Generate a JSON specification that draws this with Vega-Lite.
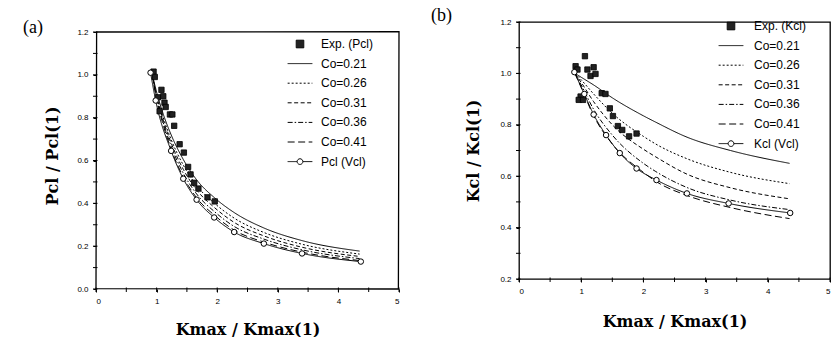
{
  "$schema": "https://vega.github.io/schema/vega-lite/v6.json",
  "padding": {"left": 23, "top": 6, "right": 0, "bottom": 0},
  "spacing": 28,
  "config": {
    "font": "Liberation Sans",
    "view": {"stroke": null},
    "axis": {"grid": false, "domain": false, "ticks": true, "domainColor": "black", "tickColor": "black", "tickSize": 3, "tickWidth": 1, "labelColor": "black", "labelFont": "Liberation Sans", "labelFontSize": 8, "labelPadding": 5, "titleColor": "black", "titleFont": "DejaVu Serif", "titleFontSize": 16, "titleFontWeight": "bold"},
    "legend": {"labelFont": "Liberation Sans", "labelFontSize": 12, "labelColor": "black", "symbolStrokeColor": "black", "symbolStrokeWidth": 1, "symbolSize": 361, "rowPadding": 3.6, "title": null},
    "title": {"font": "Liberation Serif", "fontSize": 18, "fontWeight": "normal", "anchor": "start", "frame": "group", "color": "black", "baseline": "alphabetic", "offset": 0}
  },
  "resolve": {"scale": {"strokeDash": "independent", "shape": "independent", "fill": "independent", "stroke": "independent"}},
  "datasets": {
    "a_frame": [{"i": 0, "x": 0, "y": 0}, {"i": 1, "x": 0.01, "y": 1.2}, {"i": 2, "x": 5, "y": 1.202}, {"i": 3, "x": 4.99, "y": 0}, {"i": 4, "x": 0, "y": 0.002}],
    "a_yticks": [{"x": 0, "y": 0}, {"x": 0, "y": 0.1}, {"x": 0, "y": 0.2}, {"x": 0, "y": 0.3}, {"x": 0, "y": 0.4}, {"x": 0, "y": 0.5}, {"x": 0, "y": 0.6}, {"x": 0, "y": 0.7}, {"x": 0, "y": 0.8}, {"x": 0, "y": 0.9}, {"x": 0, "y": 1.0}, {"x": 0, "y": 1.1}, {"x": 0, "y": 1.2}],
    "b_yticks": [{"x": 0, "y": 0.2}, {"x": 0, "y": 0.3}, {"x": 0, "y": 0.4}, {"x": 0, "y": 0.5}, {"x": 0, "y": 0.6}, {"x": 0, "y": 0.7}, {"x": 0, "y": 0.8}, {"x": 0, "y": 0.9}, {"x": 0, "y": 1.0}, {"x": 0, "y": 1.1}, {"x": 0, "y": 1.2}],
    "a_xticks": [{"x": 0, "y": 0}, {"x": 0.5, "y": 0}, {"x": 1, "y": 0}, {"x": 1.5, "y": 0}, {"x": 2, "y": 0}, {"x": 2.5, "y": 0}, {"x": 3, "y": 0}, {"x": 3.5, "y": 0}, {"x": 4, "y": 0}, {"x": 4.5, "y": 0}, {"x": 5, "y": 0}],
    "b_xticks": [{"x": 0, "y": 0.2}, {"x": 0.5, "y": 0.2}, {"x": 1, "y": 0.2}, {"x": 1.5, "y": 0.2}, {"x": 2, "y": 0.2}, {"x": 2.5, "y": 0.2}, {"x": 3, "y": 0.2}, {"x": 3.5, "y": 0.2}, {"x": 4, "y": 0.2}, {"x": 4.5, "y": 0.2}, {"x": 5, "y": 0.2}],
    "a_lines": [
      {"series": "Co=0.21", "x": 0.93, "y": 1.0}, {"series": "Co=0.21", "x": 1.0, "y": 0.92}, {"series": "Co=0.21", "x": 1.1, "y": 0.825}, {"series": "Co=0.21", "x": 1.24, "y": 0.72}, {"series": "Co=0.21", "x": 1.44, "y": 0.605}, {"series": "Co=0.21", "x": 1.66, "y": 0.51}, {"series": "Co=0.21", "x": 1.96, "y": 0.425}, {"series": "Co=0.21", "x": 2.28, "y": 0.357}, {"series": "Co=0.21", "x": 2.77, "y": 0.285}, {"series": "Co=0.21", "x": 3.4, "y": 0.226}, {"series": "Co=0.21", "x": 4.35, "y": 0.177},
      {"series": "Co=0.26", "x": 0.93, "y": 1.0}, {"series": "Co=0.26", "x": 1.0, "y": 0.908}, {"series": "Co=0.26", "x": 1.1, "y": 0.809}, {"series": "Co=0.26", "x": 1.24, "y": 0.698}, {"series": "Co=0.26", "x": 1.44, "y": 0.579}, {"series": "Co=0.26", "x": 1.66, "y": 0.483}, {"series": "Co=0.26", "x": 1.96, "y": 0.399}, {"series": "Co=0.26", "x": 2.28, "y": 0.331}, {"series": "Co=0.26", "x": 2.77, "y": 0.264}, {"series": "Co=0.26", "x": 3.4, "y": 0.209}, {"series": "Co=0.26", "x": 4.35, "y": 0.163},
      {"series": "Co=0.31", "x": 0.93, "y": 1.0}, {"series": "Co=0.31", "x": 1.0, "y": 0.9}, {"series": "Co=0.31", "x": 1.1, "y": 0.797}, {"series": "Co=0.31", "x": 1.24, "y": 0.682}, {"series": "Co=0.31", "x": 1.44, "y": 0.559}, {"series": "Co=0.31", "x": 1.66, "y": 0.463}, {"series": "Co=0.31", "x": 1.96, "y": 0.379}, {"series": "Co=0.31", "x": 2.28, "y": 0.311}, {"series": "Co=0.31", "x": 2.77, "y": 0.248}, {"series": "Co=0.31", "x": 3.4, "y": 0.195}, {"series": "Co=0.31", "x": 4.35, "y": 0.152},
      {"series": "Co=0.36", "x": 0.93, "y": 1.0}, {"series": "Co=0.36", "x": 1.0, "y": 0.892}, {"series": "Co=0.36", "x": 1.1, "y": 0.786}, {"series": "Co=0.36", "x": 1.24, "y": 0.667}, {"series": "Co=0.36", "x": 1.44, "y": 0.541}, {"series": "Co=0.36", "x": 1.66, "y": 0.444}, {"series": "Co=0.36", "x": 1.96, "y": 0.36}, {"series": "Co=0.36", "x": 2.28, "y": 0.292}, {"series": "Co=0.36", "x": 2.77, "y": 0.233}, {"series": "Co=0.36", "x": 3.4, "y": 0.183}, {"series": "Co=0.36", "x": 4.35, "y": 0.142},
      {"series": "Co=0.41", "x": 0.93, "y": 1.0}, {"series": "Co=0.41", "x": 1.0, "y": 0.884}, {"series": "Co=0.41", "x": 1.1, "y": 0.775}, {"series": "Co=0.41", "x": 1.24, "y": 0.652}, {"series": "Co=0.41", "x": 1.44, "y": 0.524}, {"series": "Co=0.41", "x": 1.66, "y": 0.426}, {"series": "Co=0.41", "x": 1.96, "y": 0.343}, {"series": "Co=0.41", "x": 2.28, "y": 0.275}, {"series": "Co=0.41", "x": 2.77, "y": 0.219}, {"series": "Co=0.41", "x": 3.4, "y": 0.172}, {"series": "Co=0.41", "x": 4.35, "y": 0.133},
      {"series": "Pcl (Vcl)", "x": 0.9, "y": 1.01}, {"series": "Pcl (Vcl)", "x": 0.985, "y": 0.88}, {"series": "Pcl (Vcl)", "x": 1.24, "y": 0.645}, {"series": "Pcl (Vcl)", "x": 1.44, "y": 0.515}, {"series": "Pcl (Vcl)", "x": 1.66, "y": 0.417}, {"series": "Pcl (Vcl)", "x": 1.95, "y": 0.334}, {"series": "Pcl (Vcl)", "x": 2.28, "y": 0.266}, {"series": "Pcl (Vcl)", "x": 2.77, "y": 0.212}, {"series": "Pcl (Vcl)", "x": 3.4, "y": 0.166}, {"series": "Pcl (Vcl)", "x": 4.37, "y": 0.128}
    ],
    "a_exp": [
      {"series": "Exp. (Pcl)", "x": 0.95, "y": 1.015}, {"series": "Exp. (Pcl)", "x": 0.97, "y": 0.99}, {"series": "Exp. (Pcl)", "x": 1.02, "y": 0.895}, {"series": "Exp. (Pcl)", "x": 1.05, "y": 0.83}, {"series": "Exp. (Pcl)", "x": 1.08, "y": 0.93}, {"series": "Exp. (Pcl)", "x": 1.11, "y": 0.9}, {"series": "Exp. (Pcl)", "x": 1.13, "y": 0.87}, {"series": "Exp. (Pcl)", "x": 1.15, "y": 0.85}, {"series": "Exp. (Pcl)", "x": 1.22, "y": 0.815}, {"series": "Exp. (Pcl)", "x": 1.26, "y": 0.815}, {"series": "Exp. (Pcl)", "x": 1.29, "y": 0.762}, {"series": "Exp. (Pcl)", "x": 1.38, "y": 0.676}, {"series": "Exp. (Pcl)", "x": 1.45, "y": 0.637}, {"series": "Exp. (Pcl)", "x": 1.52, "y": 0.57}, {"series": "Exp. (Pcl)", "x": 1.56, "y": 0.535}, {"series": "Exp. (Pcl)", "x": 1.62, "y": 0.496}, {"series": "Exp. (Pcl)", "x": 1.69, "y": 0.469}, {"series": "Exp. (Pcl)", "x": 1.84, "y": 0.428}, {"series": "Exp. (Pcl)", "x": 1.96, "y": 0.409}
    ],
    "b_lines": [
      {"series": "Co=0.21", "x": 0.9, "y": 1.0}, {"series": "Co=0.21", "x": 1.0, "y": 0.985}, {"series": "Co=0.21", "x": 1.2, "y": 0.955}, {"series": "Co=0.21", "x": 1.5, "y": 0.905}, {"series": "Co=0.21", "x": 2.0, "y": 0.835}, {"series": "Co=0.21", "x": 2.2, "y": 0.81}, {"series": "Co=0.21", "x": 2.7, "y": 0.752}, {"series": "Co=0.21", "x": 3.4, "y": 0.7}, {"series": "Co=0.21", "x": 4.35, "y": 0.65},
      {"series": "Co=0.26", "x": 0.9, "y": 1.0}, {"series": "Co=0.26", "x": 1.0, "y": 0.975}, {"series": "Co=0.26", "x": 1.2, "y": 0.92}, {"series": "Co=0.26", "x": 1.5, "y": 0.845}, {"series": "Co=0.26", "x": 2.0, "y": 0.755}, {"series": "Co=0.26", "x": 2.2, "y": 0.725}, {"series": "Co=0.26", "x": 2.7, "y": 0.668}, {"series": "Co=0.26", "x": 3.4, "y": 0.615}, {"series": "Co=0.26", "x": 4.35, "y": 0.571},
      {"series": "Co=0.31", "x": 0.9, "y": 1.0}, {"series": "Co=0.31", "x": 1.0, "y": 0.965}, {"series": "Co=0.31", "x": 1.2, "y": 0.89}, {"series": "Co=0.31", "x": 1.5, "y": 0.8}, {"series": "Co=0.31", "x": 2.0, "y": 0.705}, {"series": "Co=0.31", "x": 2.2, "y": 0.675}, {"series": "Co=0.31", "x": 2.7, "y": 0.608}, {"series": "Co=0.31", "x": 3.4, "y": 0.555}, {"series": "Co=0.31", "x": 4.35, "y": 0.512},
      {"series": "Co=0.36", "x": 0.9, "y": 1.0}, {"series": "Co=0.36", "x": 1.0, "y": 0.955}, {"series": "Co=0.36", "x": 1.2, "y": 0.86}, {"series": "Co=0.36", "x": 1.5, "y": 0.76}, {"series": "Co=0.36", "x": 2.0, "y": 0.65}, {"series": "Co=0.36", "x": 2.2, "y": 0.618}, {"series": "Co=0.36", "x": 2.7, "y": 0.556}, {"series": "Co=0.36", "x": 3.4, "y": 0.507}, {"series": "Co=0.36", "x": 4.35, "y": 0.47},
      {"series": "Co=0.41", "x": 0.9, "y": 1.0}, {"series": "Co=0.41", "x": 1.0, "y": 0.945}, {"series": "Co=0.41", "x": 1.2, "y": 0.835}, {"series": "Co=0.41", "x": 1.5, "y": 0.725}, {"series": "Co=0.41", "x": 2.0, "y": 0.615}, {"series": "Co=0.41", "x": 2.2, "y": 0.58}, {"series": "Co=0.41", "x": 2.7, "y": 0.525}, {"series": "Co=0.41", "x": 3.4, "y": 0.478}, {"series": "Co=0.41", "x": 4.35, "y": 0.435},
      {"series": "Kcl (Vcl)", "x": 0.89, "y": 1.005}, {"series": "Kcl (Vcl)", "x": 1.05, "y": 0.92}, {"series": "Kcl (Vcl)", "x": 1.2, "y": 0.84}, {"series": "Kcl (Vcl)", "x": 1.4, "y": 0.76}, {"series": "Kcl (Vcl)", "x": 1.62, "y": 0.69}, {"series": "Kcl (Vcl)", "x": 1.89, "y": 0.63}, {"series": "Kcl (Vcl)", "x": 2.21, "y": 0.585}, {"series": "Kcl (Vcl)", "x": 2.7, "y": 0.533}, {"series": "Kcl (Vcl)", "x": 3.37, "y": 0.494}, {"series": "Kcl (Vcl)", "x": 4.36, "y": 0.457}
    ],
    "b_exp": [
      {"series": "Exp. (Kcl)", "x": 1.06, "y": 1.067}, {"series": "Exp. (Kcl)", "x": 0.91, "y": 1.028}, {"series": "Exp. (Kcl)", "x": 0.94, "y": 1.015}, {"series": "Exp. (Kcl)", "x": 1.1, "y": 1.015}, {"series": "Exp. (Kcl)", "x": 1.2, "y": 1.024}, {"series": "Exp. (Kcl)", "x": 1.15, "y": 0.99}, {"series": "Exp. (Kcl)", "x": 1.23, "y": 0.998}, {"series": "Exp. (Kcl)", "x": 0.99, "y": 0.91}, {"series": "Exp. (Kcl)", "x": 0.96, "y": 0.897}, {"series": "Exp. (Kcl)", "x": 1.03, "y": 0.897}, {"series": "Exp. (Kcl)", "x": 1.33, "y": 0.923}, {"series": "Exp. (Kcl)", "x": 1.39, "y": 0.92}, {"series": "Exp. (Kcl)", "x": 1.46, "y": 0.864}, {"series": "Exp. (Kcl)", "x": 1.51, "y": 0.834}, {"series": "Exp. (Kcl)", "x": 1.59, "y": 0.795}, {"series": "Exp. (Kcl)", "x": 1.66, "y": 0.78}, {"series": "Exp. (Kcl)", "x": 1.77, "y": 0.755}, {"series": "Exp. (Kcl)", "x": 1.89, "y": 0.766}
    ]
  },
  "hconcat": [
    {
      "width": 303,
      "height": 267,
      "title": {"text": "(a)", "dx": -73, "dy": 19},
      "layer": [
        {
          "data": {"name": "a_lines"},
          "mark": {"type": "line", "color": "black", "strokeWidth": 1, "interpolate": "monotone"},
          "encoding": {
            "x": {"field": "x", "type": "quantitative", "scale": {"domain": [0, 5], "nice": false, "zero": false}, "axis": {"values": [0, 1, 2, 3, 4, 5], "format": "d", "title": "Kmax / Kmax(1)", "titlePadding": 16}},
            "y": {"field": "y", "type": "quantitative", "scale": {"domain": [0, 1.2467], "nice": false}, "axis": {"values": [0, 0.2, 0.4, 0.6, 0.8, 1.0, 1.2], "format": ".1f", "title": "Pcl / Pcl(1)", "titlePadding": 16}},
            "strokeDash": {"field": "series", "type": "nominal", "scale": {"domain": ["Exp. (Pcl)", "Co=0.21", "Co=0.26", "Co=0.31", "Co=0.36", "Co=0.41", "Pcl (Vcl)"], "range": [[1, 0], [1, 0], [2, 2], [4, 2.5], [5, 2, 1.5, 2], [7, 3.5], [1, 0]]}, "legend": {"orient": "none", "legendX": 194, "legendY": 12, "labelOffset": 11, "symbolStrokeColor": "black", "symbolStrokeWidth": 1}}
          }
        },
        {
          "data": {"name": "a_exp"},
          "mark": {"type": "point", "filled": true, "size": 180, "strokeWidth": 0.8, "opacity": 1},
          "encoding": {
            "x": {"field": "x", "type": "quantitative"},
            "y": {"field": "y", "type": "quantitative"},
            "shape": {"field": "series", "type": "nominal", "scale": {"domain": ["Exp. (Pcl)", "Co=0.21", "Co=0.26", "Co=0.31", "Co=0.36", "Co=0.41", "Pcl (Vcl)"], "range": ["M-0.4,-0.4H0.4V0.4H-0.4Z", "M-1.3,0H1.3", "M-1.3,0H1.3", "M-1.3,0H1.3", "M-1.3,0H1.3", "M-1.3,0H1.3", "M-1.3,0H-0.3M0.3,0H1.3M0.3,0A0.3,0.3 0 1 1 -0.3,0A0.3,0.3 0 1 1 0.3,0"]}, "legend": {"orient": "none", "legendX": 194, "legendY": 12, "labelOffset": 11, "symbolStrokeColor": "black", "symbolStrokeWidth": 1}},
            "fill": {"field": "series", "type": "nominal", "scale": {"domain": ["Exp. (Pcl)", "Co=0.21", "Co=0.26", "Co=0.31", "Co=0.36", "Co=0.41", "Pcl (Vcl)"], "range": ["#222222", "transparent", "transparent", "transparent", "transparent", "transparent", "white"]}, "legend": {"orient": "none", "legendX": 194, "legendY": 12, "labelOffset": 11, "symbolStrokeColor": "black", "symbolStrokeWidth": 1}},
            "stroke": {"field": "series", "type": "nominal", "scale": {"domain": ["Exp. (Pcl)", "Co=0.21", "Co=0.26", "Co=0.31", "Co=0.36", "Co=0.41", "Pcl (Vcl)"], "range": ["black", "black", "black", "black", "black", "black", "black"]}, "legend": {"orient": "none", "legendX": 194, "legendY": 12, "labelOffset": 11, "symbolStrokeColor": "black", "symbolStrokeWidth": 1}}
          }
        },
        {
          "data": {"name": "a_lines"},
          "transform": [{"filter": "datum.series === 'Pcl (Vcl)'"}],
          "mark": {"type": "point", "shape": "circle", "filled": true, "fill": "white", "stroke": "black", "strokeWidth": 1, "size": 30, "opacity": 1},
          "encoding": {
            "x": {"field": "x", "type": "quantitative"},
            "y": {"field": "y", "type": "quantitative"}
          }
        },
        {"data": {"name": "a_frame"}, "mark": {"type": "line", "stroke": "black", "strokeWidth": 1.3}, "encoding": {"x": {"field": "x", "type": "quantitative"}, "y": {"field": "y", "type": "quantitative"}, "order": {"field": "i", "type": "quantitative"}}},
        {"data": {"name": "a_yticks"}, "mark": {"type": "point", "shape": "M-1.2,0H0.6", "filled": true, "fill": "white", "stroke": "black", "strokeWidth": 1, "size": 25, "opacity": 1}, "encoding": {"x": {"field": "x", "type": "quantitative"}, "y": {"field": "y", "type": "quantitative"}}},
        {"data": {"name": "a_xticks"}, "mark": {"type": "point", "shape": "M0,-0.6V1.2", "filled": true, "fill": "white", "stroke": "black", "strokeWidth": 1, "size": 25, "opacity": 1}, "encoding": {"x": {"field": "x", "type": "quantitative"}, "y": {"field": "y", "type": "quantitative"}}}
      ]
    },
    {
      "width": 311,
      "height": 257,
      "title": {"text": "(b)", "dx": -88, "dy": 13},
      "view": {"stroke": "black", "strokeWidth": 1.3},
      "layer": [
        {
          "data": {"name": "b_lines"},
          "mark": {"type": "line", "color": "black", "strokeWidth": 1, "interpolate": "monotone"},
          "encoding": {
            "x": {"field": "x", "type": "quantitative", "scale": {"domain": [0, 5], "nice": false, "zero": false}, "axis": {"values": [0, 1, 2, 3, 4, 5], "format": "d", "title": "Kmax / Kmax(1)", "titlePadding": 18}},
            "y": {"field": "y", "type": "quantitative", "scale": {"domain": [0.2, 1.2], "nice": false, "zero": false}, "axis": {"values": [0.2, 0.4, 0.6, 0.8, 1.0, 1.2], "format": ".1f", "title": "Kcl / Kcl(1)", "titlePadding": 18}},
            "strokeDash": {"field": "series", "type": "nominal", "scale": {"domain": ["Exp. (Kcl)", "Co=0.21", "Co=0.26", "Co=0.31", "Co=0.36", "Co=0.41", "Kcl (Vcl)"], "range": [[1, 0], [1, 0], [2, 2], [4, 2.5], [5, 2, 1.5, 2], [7, 3.5], [1, 0]]}, "legend": {"orient": "none", "legendX": 202, "legendY": -6, "labelOffset": 13, "symbolStrokeColor": "black", "symbolStrokeWidth": 1}}
          }
        },
        {
          "data": {"name": "b_exp"},
          "mark": {"type": "point", "filled": true, "size": 180, "strokeWidth": 0.8, "opacity": 1},
          "encoding": {
            "x": {"field": "x", "type": "quantitative"},
            "y": {"field": "y", "type": "quantitative"},
            "shape": {"field": "series", "type": "nominal", "scale": {"domain": ["Exp. (Kcl)", "Co=0.21", "Co=0.26", "Co=0.31", "Co=0.36", "Co=0.41", "Kcl (Vcl)"], "range": ["M-0.4,-0.4H0.4V0.4H-0.4Z", "M-1.3,0H1.3", "M-1.3,0H1.3", "M-1.3,0H1.3", "M-1.3,0H1.3", "M-1.3,0H1.3", "M-1.3,0H-0.3M0.3,0H1.3M0.3,0A0.3,0.3 0 1 1 -0.3,0A0.3,0.3 0 1 1 0.3,0"]}, "legend": {"orient": "none", "legendX": 202, "legendY": -6, "labelOffset": 13, "symbolStrokeColor": "black", "symbolStrokeWidth": 1}},
            "fill": {"field": "series", "type": "nominal", "scale": {"domain": ["Exp. (Kcl)", "Co=0.21", "Co=0.26", "Co=0.31", "Co=0.36", "Co=0.41", "Kcl (Vcl)"], "range": ["#222222", "transparent", "transparent", "transparent", "transparent", "transparent", "white"]}, "legend": {"orient": "none", "legendX": 202, "legendY": -6, "labelOffset": 13, "symbolStrokeColor": "black", "symbolStrokeWidth": 1}},
            "stroke": {"field": "series", "type": "nominal", "scale": {"domain": ["Exp. (Kcl)", "Co=0.21", "Co=0.26", "Co=0.31", "Co=0.36", "Co=0.41", "Kcl (Vcl)"], "range": ["black", "black", "black", "black", "black", "black", "black"]}, "legend": {"orient": "none", "legendX": 202, "legendY": -6, "labelOffset": 13, "symbolStrokeColor": "black", "symbolStrokeWidth": 1}}
          }
        },
        {
          "data": {"name": "b_lines"},
          "transform": [{"filter": "datum.series === 'Kcl (Vcl)'"}],
          "mark": {"type": "point", "shape": "circle", "filled": true, "fill": "white", "stroke": "black", "strokeWidth": 1, "size": 30, "opacity": 1},
          "encoding": {
            "x": {"field": "x", "type": "quantitative"},
            "y": {"field": "y", "type": "quantitative"}
          }
        },
        {"data": {"name": "b_yticks"}, "mark": {"type": "point", "shape": "M-1.2,0H0.6", "filled": true, "fill": "white", "stroke": "black", "strokeWidth": 1, "size": 25, "opacity": 1}, "encoding": {"x": {"field": "x", "type": "quantitative"}, "y": {"field": "y", "type": "quantitative"}}},
        {"data": {"name": "b_xticks"}, "mark": {"type": "point", "shape": "M0,-0.6V1.2", "filled": true, "fill": "white", "stroke": "black", "strokeWidth": 1, "size": 25, "opacity": 1}, "encoding": {"x": {"field": "x", "type": "quantitative"}, "y": {"field": "y", "type": "quantitative"}}}
      ]
    }
  ]
}
